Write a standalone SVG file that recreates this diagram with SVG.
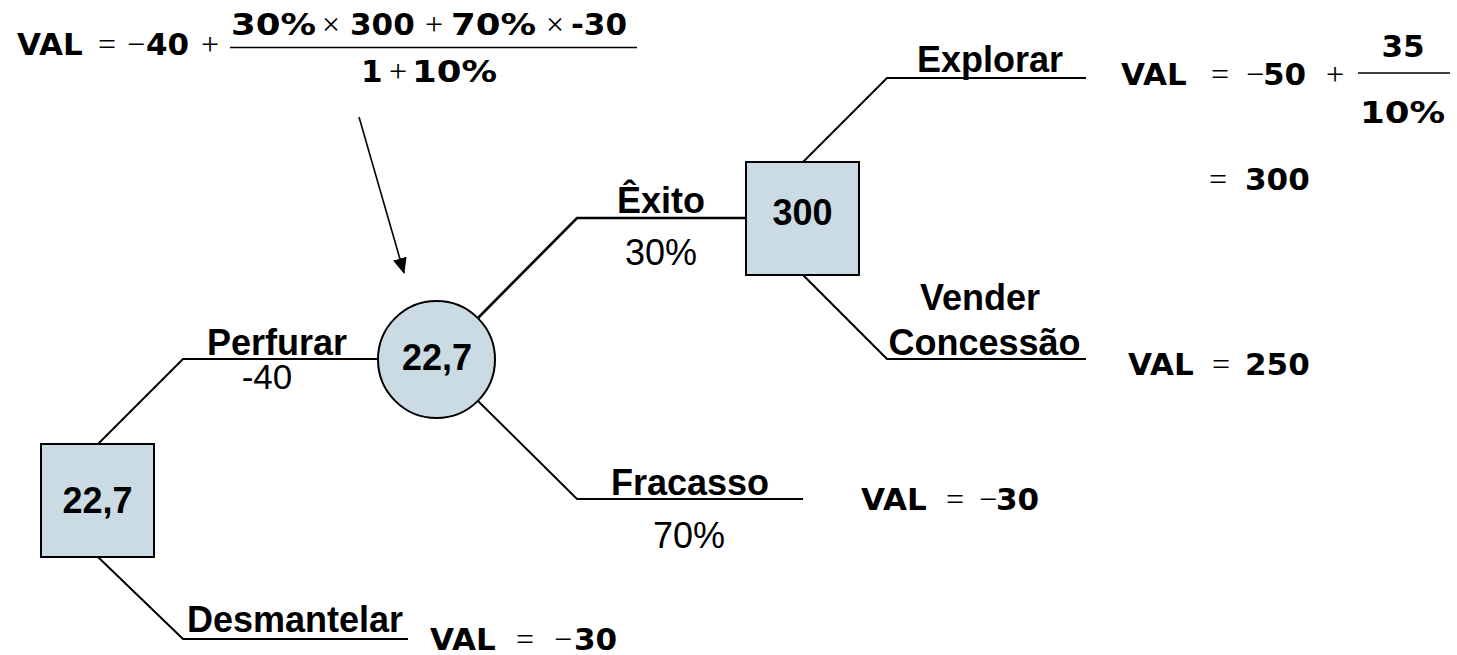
<svg xmlns="http://www.w3.org/2000/svg" width="1457" height="655" viewBox="0 0 1457 655">
  <style>
    .node { fill: #cbdbe4; stroke: #000; stroke-width: 2; }
    .edge { fill: none; stroke: #000; stroke-width: 2; }
    .lbl { font-family: "Liberation Sans", Arial, sans-serif; font-weight: bold; font-size: 36px; fill: #000; }
    .prob { font-family: "Liberation Sans", Arial, sans-serif; font-size: 36px; fill: #000; }
    .val { font-family: "DejaVu Sans", Verdana, sans-serif; font-weight: bold; font-size: 31px; fill: #000; }
    .op { font-family: "Liberation Serif", "Times New Roman", serif; font-size: 32px; fill: #000; }
    .bar { stroke: #000; stroke-width: 1.6; }
  </style>
  <defs>
    <marker id="arrowhead" viewBox="0 0 16 14" refX="15" refY="7" markerWidth="16" markerHeight="14" markerUnits="userSpaceOnUse" orient="auto">
      <path d="M0,0 L16,7 L0,14 z" fill="#000"/>
    </marker>
  </defs>

  <!-- branches -->
  <g id="connectors">
    <polyline class="edge" points="98,444 183,359 379,359"/>
    <polyline class="edge" points="98,557 183,639 408,639"/>
    <polyline class="edge" points="478,318 577,218 746,218" style="stroke-width:2.6"/>
    <polyline class="edge" points="478,401 577,499 803,499"/>
    <polyline class="edge" points="803,162 887,78 1086,78"/>
    <polyline class="edge" points="803,275 887,359 1086,359"/>
    <line class="edge" x1="359" y1="117" x2="404" y2="273" style="stroke-width:1.6" marker-end="url(#arrowhead)"/>
  </g>

  <!-- decision: drill or dismantle -->
  <g id="decision-root">
    <rect class="node" x="41" y="444" width="113" height="113"/>
    <text class="lbl" x="97.5" y="513" text-anchor="middle">22,7</text>
  </g>

  <!-- chance: outcome of drilling -->
  <g id="chance-drill">
    <circle class="node" cx="436.5" cy="359.5" r="58.5"/>
    <text class="lbl" x="437" y="370" text-anchor="middle">22,7</text>
  </g>

  <!-- decision: explore or sell -->
  <g id="decision-success">
    <rect class="node" x="746" y="162" width="113" height="113"/>
    <text class="lbl" x="802.5" y="225" text-anchor="middle">300</text>
  </g>

  <!-- branch labels -->
  <g id="labels">
    <text class="lbl" x="277" y="355" text-anchor="middle">Perfurar</text>
    <text class="prob" x="267" y="389" text-anchor="middle" style="font-size:35px">-40</text>
    <text class="lbl" x="295" y="632" text-anchor="middle">Desmantelar</text>
    <text class="lbl" x="661" y="213" text-anchor="middle">Êxito</text>
    <text class="prob" x="661" y="265" text-anchor="middle">30%</text>
    <text class="lbl" x="690" y="495" text-anchor="middle">Fracasso</text>
    <text class="prob" x="689" y="548" text-anchor="middle">70%</text>
    <text class="lbl" x="990" y="72" text-anchor="middle">Explorar</text>
    <text class="lbl" x="980" y="310" text-anchor="middle">Vender</text>
    <text class="lbl" x="984.5" y="355" text-anchor="middle">Concessão</text>
  </g>

  <!-- expected value of drilling -->
  <g id="formula-drill">
    <text class="val" x="17" y="55">VAL</text>
    <text class="op" x="98" y="55">=</text>
    <text class="op" x="127" y="55">−</text>
    <text class="val" x="146" y="55">40</text>
    <text class="op" x="201" y="55">+</text>
    <line class="bar" x1="230" y1="47.5" x2="637" y2="47.5"/>
    <text class="val" x="231" y="35" textLength="85" lengthAdjust="spacingAndGlyphs">30%</text>
    <text class="op" x="322" y="35">×</text>
    <text class="val" x="350" y="35">300</text>
    <text class="op" x="425" y="35">+</text>
    <text class="val" x="451" y="35" textLength="85" lengthAdjust="spacingAndGlyphs">70%</text>
    <text class="op" x="546" y="35">×</text>
    <text class="val" x="571" y="35">-30</text>
    <text class="val" x="361" y="82">1</text>
    <text class="op" x="389" y="82">+</text>
    <text class="val" x="412" y="82" textLength="85" lengthAdjust="spacingAndGlyphs">10%</text>
  </g>

  <!-- value of exploring -->
  <g id="formula-explore">
    <text class="val" x="1121" y="85">VAL</text>
    <text class="op" x="1211" y="85">=</text>
    <text class="op" x="1246" y="85">−</text>
    <text class="val" x="1263" y="85">50</text>
    <text class="op" x="1326" y="85">+</text>
    <line class="bar" x1="1358" y1="73" x2="1450" y2="73"/>
    <text class="val" x="1403" y="57" text-anchor="middle">35</text>
    <text class="val" x="1360" y="123" textLength="85" lengthAdjust="spacingAndGlyphs">10%</text>
    <text class="op" x="1209" y="190">=</text>
    <text class="val" x="1245" y="190">300</text>
  </g>

  <!-- value of selling the concession -->
  <g id="formula-sell">
    <text class="val" x="1128" y="375">VAL</text>
    <text class="op" x="1212" y="375">=</text>
    <text class="val" x="1245" y="375">250</text>
  </g>

  <!-- value on failure -->
  <g id="formula-fail">
    <text class="val" x="861" y="510">VAL</text>
    <text class="op" x="946" y="510">=</text>
    <text class="op" x="979" y="510">−</text>
    <text class="val" x="996" y="510">30</text>
  </g>

  <!-- value of dismantling -->
  <g id="formula-dismantle">
    <text class="val" x="430" y="650">VAL</text>
    <text class="op" x="516" y="650">=</text>
    <text class="op" x="554" y="650">−</text>
    <text class="val" x="574" y="650">30</text>
  </g>
</svg>
